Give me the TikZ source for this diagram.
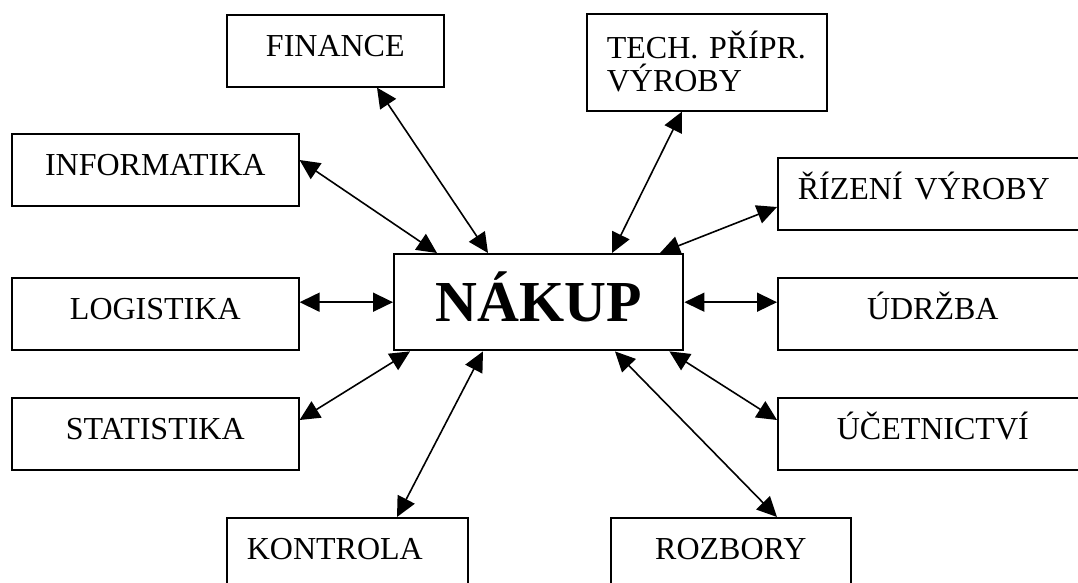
\documentclass[tikz,border=0pt]{standalone}
\usepackage{fontspec}
\setmainfont{Liberation Serif}
\usetikzlibrary{arrows.meta}
\begin{document}
\begin{tikzpicture}[x=1pt,y=-1pt,
  box/.style={draw, line width=1.6pt, rectangle, anchor=north west,
    inner xsep=0pt, inner ysep=0pt, minimum height=72pt,
    font=\fontsize{32}{32}\selectfont,
    text height=41.5pt, text depth=30.5pt},
  lbox/.style={box, inner xsep=20pt, text width=#1, align=left},
  link/.style={line width=1.6pt, {Triangle[length=20pt,width=19pt]}-{Triangle[length=20pt,width=19pt]}}
]
\useasboundingbox (0,0) rectangle (1078,583);
\clip (0,0) rectangle (1078,583);

% central box
\node[draw, line width=2.4pt, anchor=north west, inner sep=0pt,
  minimum width=289pt, minimum height=96pt,
  text height=67pt, text depth=29pt,
  font=\fontsize{58}{60}\selectfont\bfseries] (nak) at (393,253) {NÁKUP};

% surrounding departments
\node[box, minimum width=217pt] (fin) at (226,14) {FINANCE};
\node[box, inner xsep=20pt, text width=200pt, align=left,
  minimum height=97pt, text height=45pt, text depth=52pt] (tech) at (586,13)
  {TECH. PŘÍPR.\\[1pt]VÝROBY};
\node[box, minimum width=287pt] (inf) at (11,133) {INFORMATIKA};
\node[lbox=270pt] (riz) at (777,157) {ŘÍZENÍ\hspace{12pt}VÝROBY};
\node[box, minimum width=287pt] (log) at (11,277) {LOGISTIKA};
\node[box, minimum width=310pt] (udr) at (777,277) {ÚDRŽBA};
\node[box, minimum width=287pt] (sta) at (11,397) {STATISTIKA};
\node[box, minimum width=310pt] (uce) at (777,397) {ÚČETNICTVÍ};
\node[lbox=201pt] (kon) at (226,517) {KONTROLA};
\node[box, minimum width=240pt] (roz) at (610,517) {ROZBORY};

% two-way links to the central box
\draw[link] ([xshift=151pt]fin.south west) -- ([xshift=95pt]nak.north west);
\draw[link] ([yshift=-27pt]inf.north east) -- ([xshift=44pt]nak.north west);
\draw[link] ([xshift=96pt]tech.south west) -- ([xshift=219pt]nak.north west);
\draw[link] ([yshift=-50pt]riz.north west) -- ([xshift=267pt]nak.north west);
\draw[link] (nak.west -| log.east) -- (nak.west);
\draw[link] (nak.east) -- (nak.east -| udr.west);
\draw[link] ([yshift=-23pt]sta.north east) -- ([xshift=17pt]nak.south west);
\draw[link] ([xshift=-15pt]nak.south east) -- ([yshift=-23pt]uce.north west);
\draw[link] ([xshift=171pt]kon.north west) -- ([xshift=90pt]nak.south west);
\draw[link] ([xshift=167pt]roz.north west) -- ([xshift=222pt]nak.south west);
\end{tikzpicture}
\end{document}
